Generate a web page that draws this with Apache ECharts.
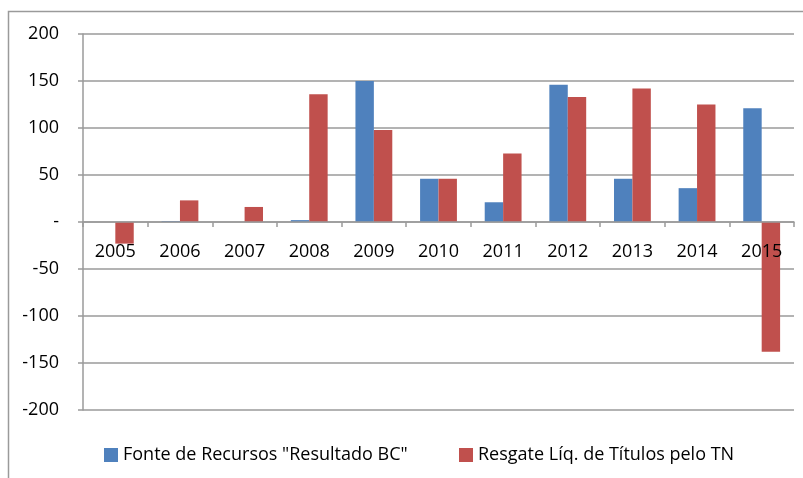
<!DOCTYPE html>
<html><head><meta charset="utf-8">
<script src="https://cdn.jsdelivr.net/npm/echarts@6/dist/echarts.min.js"></script>
<style>html,body{margin:0;padding:0;background:#fff}#c{width:803px;height:478px}</style>
</head><body><div id="c"></div>
<script>
const categories = ['2005','2006','2007','2008','2009','2010','2011','2012','2013','2014','2015'];
const fonteRecursos = [0, 1, 0, 2, 150, 46, 21, 146, 46, 36, 121];
const resgateTitulos = [-23, 23, 16, 136, 98, 46, 73, 133, 142, 125, -138];
const seriesNames = ['Fonte de Recursos "Resultado BC"', 'Resgate Líq. de Títulos pelo TN'];
const yTicks = [-200, -150, -100, -50, 0, 50, 100, 150, 200];

const FONT = 'Open Sans';
const GRID_TOP = 34, GRID_BOTTOM = 68, H = 478;
const plotH = H - GRID_TOP - GRID_BOTTOM;
const yMin = yTicks[0], yMax = yTicks[yTicks.length-1];
const zeroOffset = -plotH * (0 - yMin) / (yMax - yMin);

const chart = echarts.init(document.getElementById('c'));
chart.setOption({
  animation: false,
  graphic: [{type:'rect', shape:{x:8.5, y:11.5, width:900, height:600}, style:{fill:'none', stroke:'#9a9a9a', lineWidth:1.5}, silent:true}],
  grid: {left: 83, right: 9, top: GRID_TOP, bottom: GRID_BOTTOM},
  legend: [
    {data:[seriesNames[0]], left: 99, top: 441, itemWidth: 14, itemHeight: 14, icon:'rect',
     textStyle:{fontFamily:FONT, fontSize:18, color:'#000'}},
    {data:[seriesNames[1]], left: 454, top: 441, itemWidth: 14, itemHeight: 14, icon:'rect',
     textStyle:{fontFamily:FONT, fontSize:18, color:'#000'}}
  ],
  xAxis: {
    type:'category', data: categories, z: 3, position:'bottom', offset: zeroOffset,
    axisLine:{onZero:false, lineStyle:{color:'#9a9a9a', width:1.5}},
    axisTick:{show:true, length:5, lineStyle:{color:'#9a9a9a', width:1.5}},
    axisLabel:{fontFamily:FONT, fontSize:18, color:'#000', margin:21}
  },
  yAxis: {
    type:'value', min: yMin, max: yMax, interval: 50,
    axisLine:{show:true, lineStyle:{color:'#9a9a9a', width:1.5}},
    axisTick:{show:true, length:5, lineStyle:{color:'#9a9a9a', width:1.5}},
    splitLine:{show:true, lineStyle:{color:'#9a9a9a', width:1.5}},
    axisLabel:{fontFamily:FONT, fontSize:18, color:'#000', margin:24,
      formatter: v => v === 0 ? '-' : String(v)}
  },
  series: [
    {name: seriesNames[0], type:'bar', data: fonteRecursos, barGap:'0%', barCategoryGap:'43%',
     itemStyle:{color:'#4F81BD'}},
    {name: seriesNames[1], type:'bar', data: resgateTitulos, barGap:'0%', barCategoryGap:'43%',
     itemStyle:{color:'#C0504D'}}
  ]
});
</script></body></html>
